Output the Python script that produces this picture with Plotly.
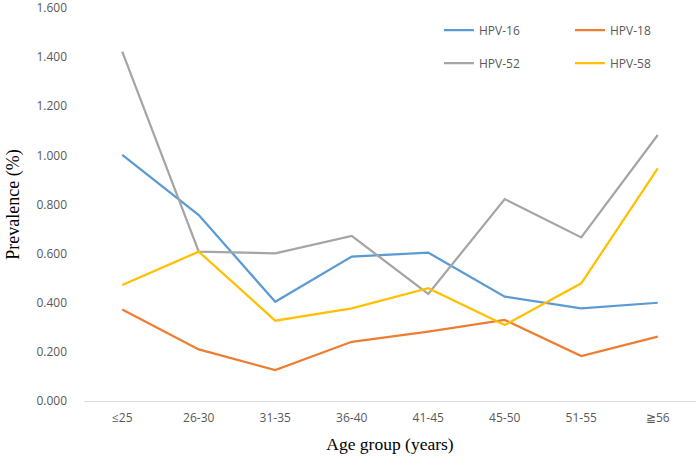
import plotly.graph_objects as go

# age groups and prevalence (%) per HPV type
age_groups = ["≤25", "26-30", "31-35", "36-40", "41-45", "45-50", "51-55", "≧56"]
hpv16 = [1.002, 0.757, 0.404, 0.588, 0.604, 0.425, 0.377, 0.400]
hpv18 = [0.373, 0.210, 0.126, 0.241, 0.282, 0.330, 0.183, 0.262]
hpv52 = [1.422, 0.608, 0.601, 0.672, 0.436, 0.822, 0.666, 1.083]
hpv58 = [0.472, 0.608, 0.327, 0.377, 0.459, 0.309, 0.479, 0.947]

fig = go.Figure()

#row 1 of the legend
fig.add_trace(go.Scatter(x=age_groups, y=hpv16, mode="lines", name="HPV-16",
                         line=dict(color="#5B9BD5", width=2.25), legend="legend"))
fig.add_trace(go.Scatter(x=age_groups, y=hpv18, mode="lines", name="HPV-18",
                         line=dict(color="#ED7D31", width=2.25), legend="legend"))
#row 2
fig.add_trace(go.Scatter(x=age_groups, y=hpv52, mode="lines", name="HPV-52",
                         line=dict(color="#A5A5A5", width=2.25), legend="legend2"))
fig.add_trace(go.Scatter(x=age_groups, y=hpv58, mode="lines", name="HPV-58",
                         line=dict(color="#FFC000", width=2.25), legend="legend2"))

leg_style = dict(orientation="h", xanchor="left", yanchor="middle", x=0.58,
                 entrywidth=86, entrywidthmode="pixels", bgcolor="rgba(0,0,0,0)",
                 font=dict(family="Open Sans, sans-serif", size=12, color="#595959"))

fig.update_layout(
    width=700, height=458,
    margin=dict(l=84, r=4, t=8, b=57, autoexpand=False),
    paper_bgcolor="white", plot_bgcolor="white",
    showlegend=True,
    legend=dict(leg_style, y=0.944),
    legend2=dict(leg_style, y=0.860),
    font=dict(family="Open Sans, sans-serif", size=12, color="#595959"),
)

fig.update_xaxes(
    type="category", range=[-0.5, 7.5], showgrid=False, showline=True,
    linecolor="#D9D9D9", linewidth=1, ticks="", ticklabelstandoff=6,
    tickfont=dict(family="Open Sans, sans-serif", size=12, color="#595959"),
    title=dict(text="Age group (years)", standoff=12,
               font=dict(family="Liberation Serif, Times New Roman, serif", size=17.5, color="#000000")),
)

fig.update_yaxes(
    range=[0, 1.6], tick0=0, dtick=0.2, tickformat=".3f", showgrid=False, zeroline=False,
    showline=False, ticks="", ticklabelstandoff=16, ticklabeloverflow="allow",
    tickfont=dict(family="Open Sans, sans-serif", size=12, color="#595959"),
    title=dict(text="Prevalence (%)", standoff=12,
               font=dict(family="Liberation Serif, Times New Roman, serif", size=18, color="#000000")),
)

# drop the default 8px body margin so the chart sits at the window origin
fig.write_html("out.html", config={"displayModeBar": False},
               post_script="document.body.style.margin='0';")
